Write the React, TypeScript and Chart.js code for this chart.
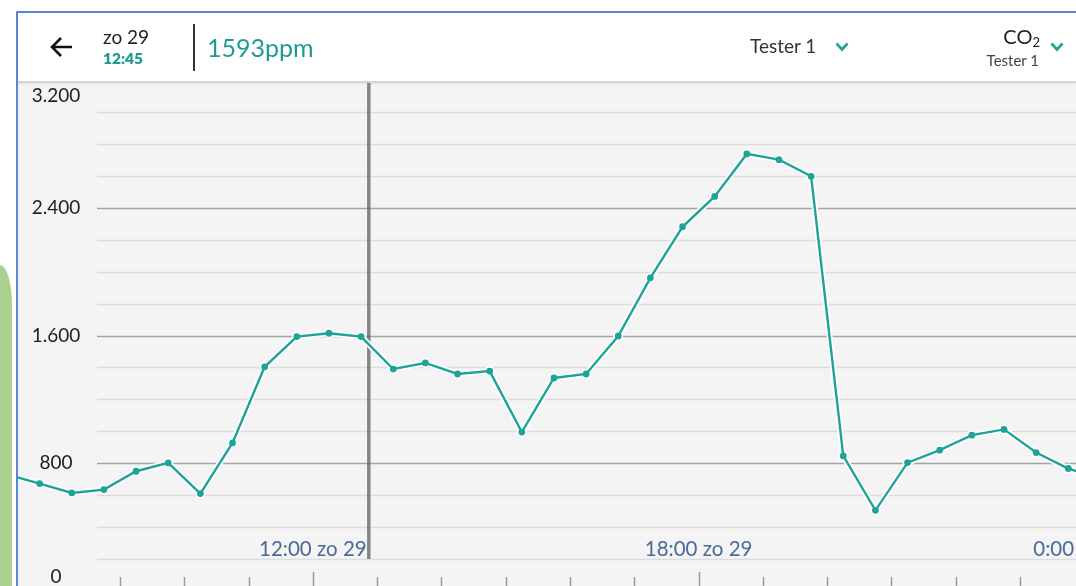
import React, { useEffect, useRef } from "react";
import { Chart, registerables } from "chart.js";

Chart.register(...registerables);

// ---- data ----
const hours = [7.25, 7.75, 8.25, 8.75, 9.25, 9.75, 10.25, 10.75, 11.25, 11.75, 12.25, 12.75, 13.25, 13.75, 14.25, 14.75, 15.25, 15.75, 16.25, 16.75, 17.25, 17.75, 18.25, 18.75, 19.25, 19.75, 20.25, 20.75, 21.25, 21.75, 22.25, 22.75, 23.25, 23.75, 24.25];
const co2 = [730, 673, 614, 635, 750, 802, 610, 927, 1404, 1593, 1614, 1593, 1390, 1428, 1359, 1377, 995, 1334, 1359, 1597, 1961, 2281, 2471, 2737, 2701, 2597, 846, 505, 804, 882, 976, 1012, 867, 767, 700];

const yTickValues = [0, 800, 1600, 2400, 3200];
const yTickLabels = ["0", "800", "1.600", "2.400", "3.200"];
const hourTicks = [8, 9, 10, 11, 12, 13, 14, 15, 16, 17, 18, 19, 20, 21, 22, 23, 24];
const xLabelHours = [12, 18, 24];
const xLabelTexts = ["12:00 zo 29", "18:00 zo 29", "0:00 ma 30"];
const cursorHour = 12.87;

const headerDate = "zo 29";
const headerTime = "12:45";
const headerValue = "1593ppm";
const deviceName = "Tester 1";

const TEAL = "#1fa398";
const FONT = "Lato, 'Open Sans', sans-serif";

const panelPlugin = {
  id: "panel",
  beforeDatasetsDraw(chart: any) {
    const { ctx, chartArea } = chart;
    const xs = chart.scales.x;
    const ys = chart.scales.y;
    const gridLeft = 79;
    ctx.save();
    ctx.fillStyle = "#f4f4f4";
    ctx.fillRect(0, 0, chart.width, chart.height);

    // grid lines
    let values: number[] = (ys.ticks || []).map((t: any) => t.value);
    if (!values.length) {
      values = [];
      for (let v = 0; v <= 3200; v += 200) values.push(v);
    }
    values.forEach((v) => {
      const y = Math.round(ys.getPixelForValue(v)) + 0.5;
      const major = v % 800 === 0;
      ctx.strokeStyle = major ? "#a4a4a4" : "#dcdcdc";
      ctx.lineWidth = major ? 1.6 : 1.4;
      ctx.beginPath();
      ctx.moveTo(gridLeft, y);
      ctx.lineTo(chartArea.right, y);
      ctx.stroke();
    });

    // hour ticks at bottom
    const y0 = ys.getPixelForValue(0);
    hourTicks.forEach((h) => {
      const x = xs.getPixelForValue(h);
      if (x < gridLeft || x > chart.width) return;
      const len = h % 6 === 0 ? 19 : 14;
      ctx.strokeStyle = "#9a9a9a";
      ctx.lineWidth = 1.5;
      ctx.beginPath();
      ctx.moveTo(Math.round(x) + 0.5, y0 - len);
      ctx.lineTo(Math.round(x) + 0.5, y0);
      ctx.stroke();
    });

    // x labels
    ctx.fillStyle = "#4b6a9a";
    ctx.font = `20.5px ${FONT}`;
    ctx.textAlign = "center";
    ctx.textBaseline = "middle";
    xLabelHours.forEach((h, i) => {
      ctx.fillText(xLabelTexts[i], xs.getPixelForValue(h), y0 - 42);
    });

    // y labels
    ctx.fillStyle = "#1e1e1e";
    ctx.font = `19px ${FONT}`;
    yTickValues.forEach((v, i) => {
      const y = Math.min(Math.max(ys.getPixelForValue(v), 16), 497);
      ctx.fillText(yTickLabels[i], 56 - 18, y);
    });

    // cursor line
    const cx = xs.getPixelForValue(cursorHour);
    ctx.strokeStyle = "rgba(95,95,95,0.75)";
    ctx.lineWidth = 3.5;
    ctx.beginPath();
    ctx.moveTo(cx, 0);
    ctx.lineTo(cx, ys.getPixelForValue(200));
    ctx.stroke();
    ctx.restore();
  },
};

function ChartPanel() {
  const ref = useRef<HTMLCanvasElement>(null);
  useEffect(() => {
    const points = hours.map((h, i) => ({ x: h, y: co2[i] }));
    const chart = new Chart(ref.current as HTMLCanvasElement, {
      type: "line",
      data: {
        datasets: [
          {
            data: points,
            borderColor: TEAL,
            borderWidth: 2.4,
            pointRadius: 3.4,
            pointBackgroundColor: TEAL,
            pointBorderWidth: 0,
            tension: 0,
            order: 1,
          },
          {
            data: points,
            borderColor: "rgba(255,255,255,0.95)",
            borderWidth: 6,
            pointRadius: 5,
            pointBackgroundColor: "rgba(255,255,255,0.95)",
            pointBorderWidth: 0,
            tension: 0,
            order: 2,
          },
        ],
      },
      options: {
        animation: false,
        responsive: false,
        events: [],
        layout: { padding: 0, autoPadding: false },
        plugins: { legend: { display: false }, tooltip: { enabled: false } },
        scales: {
          x: { type: "linear", min: 7.4134, max: 23.87, display: false },
          y: { min: 0, max: 3200, display: false, ticks: { stepSize: 200 } },
        },
      },
      plugins: [panelPlugin],
    } as any);
    return () => chart.destroy();
  }, []);
  return (
    <canvas
      ref={ref}
      width={1058}
      height={511}
      style={{ position: "absolute", left: 18, top: 80, width: 1058, height: 511, display: "block" }}
    />
  );
}

function Txt(props: { x: number; base: number; size: number; color: string; weight?: number; right?: boolean; children: any }) {
  const { x, base, size, color, weight, right, children } = props;
  const style: any = {
    position: "absolute",
    top: base - 0.987 * size,
    fontSize: size,
    lineHeight: "normal",
    color,
    fontWeight: weight || 400,
    fontFamily: FONT,
    whiteSpace: "nowrap",
  };
  if (right) style.right = 1076 - x;
  else style.left = x;
  return <div style={style}>{children}</div>;
}

function Chevron({ x, y }: { x: number; y: number }) {
  return (
    <svg style={{ position: "absolute", left: x, top: y }} width={14} height={10}>
      <polyline points="1.5,1.5 7,7.5 12.5,1.5" fill="none" stroke={TEAL} strokeWidth={2.6} />
    </svg>
  );
}

export default function App() {
  return (
    <div style={{ position: "fixed", left: 0, top: 0, width: 1076, height: 586, background: "#fff", overflow: "hidden" }}>
      <div style={{ position: "absolute", left: 0, top: 265, width: 12, height: 400, background: "#a9d08e", borderTopRightRadius: "12px 40px" }} />
      <ChartPanel />
      <div style={{ position: "absolute", left: 16, top: 11, width: 1100, height: 700, borderTop: "2px solid #5b87d6", borderLeft: "2px solid #5b87d6" }} />
      <div style={{ position: "absolute", left: 18, top: 13, width: 1058, height: 68, background: "#fff", borderBottom: "2px solid #d6d6d6", boxShadow: "0 1px 2px rgba(0,0,0,0.08)" }} />
      <svg style={{ position: "absolute", left: 48, top: 34 }} width={28} height={26}>
        <path d="M24 13 H4 M13 4 L4 13 L13 22" fill="none" stroke="#111" strokeWidth={2.6} />
      </svg>
      <Txt x={103} base={43.5} size={19} color="#222">{headerDate}</Txt>
      <Txt x={103} base={64} size={15.5} color="#1a9c90" weight={800}>{headerTime}</Txt>
      <div style={{ position: "absolute", left: 193, top: 24, width: 2, height: 47, background: "#333" }} />
      <Txt x={207} base={56.5} size={25} color="#1c9d93">{headerValue}</Txt>
      <Txt x={750} base={53} size={19} color="#333">{deviceName}</Txt>
      <Chevron x={835} y={42} />
      <Txt x={1040} base={44} size={20} color="#222" right>
        CO<sub style={{ fontSize: 13, verticalAlign: "-3px" }}>2</sub>
      </Txt>
      <Txt x={1039} base={66} size={15} color="#444" right>{deviceName}</Txt>
      <Chevron x={1050} y={42} />
    </div>
  );
}
